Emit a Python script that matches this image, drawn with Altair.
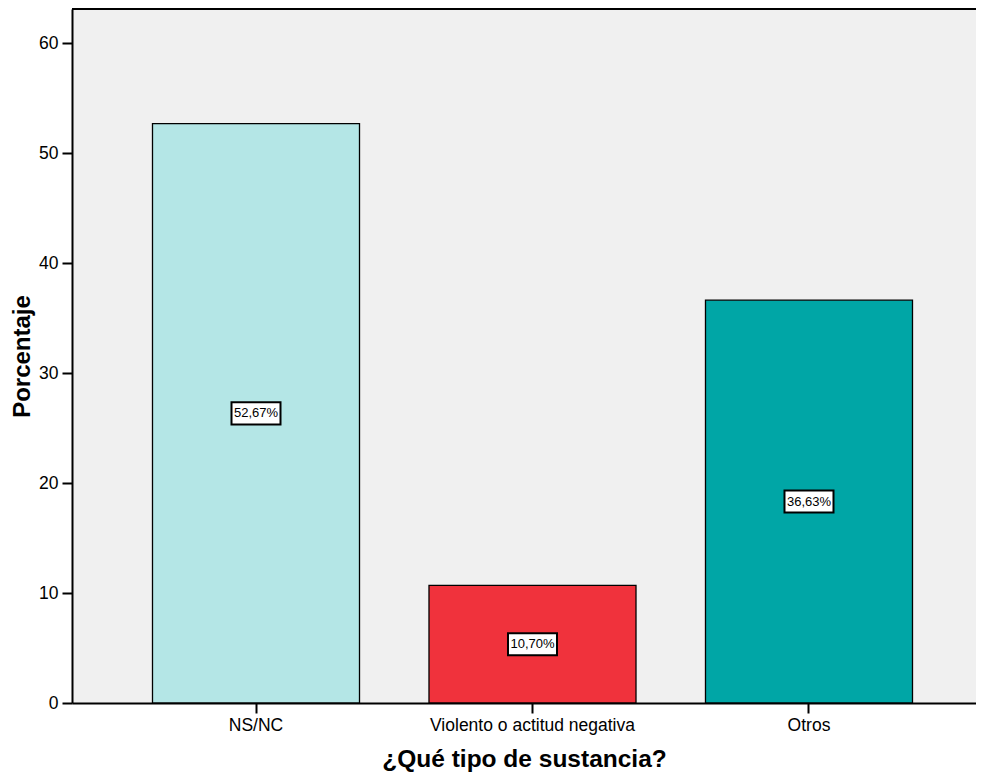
import altair as alt
import pandas as pd

categorias = ["NS/NC", "Violento o actitud negativa", "Otros"]
porcentajes = [52.67, 10.70, 36.63]
etiquetas = ["52,67%", "10,70%", "36,63%"]
colores = ["#b4e6e6", "#f0323c", "#00a6a6"]

df = pd.DataFrame({
    "cat": categorias,
    "pct": porcentajes,
    "mid": [p / 2 for p in porcentajes],
    "lab": etiquetas,
})

FONT = "Liberation Sans"
W, H = 904, 694

x = alt.X("cat:N", sort=categorias,
          scale=alt.Scale(paddingInner=0.2513, paddingOuter=0.2604, align=0.559),
          axis=alt.Axis(title="¿Qué tipo de sustancia?", labelAngle=0, labelLimit=0,
                        labelFontSize=17.5, labelColor="#000", labelPadding=3,
                        tickSize=10, tickWidth=2, tickColor="#000",
                        domainColor="#000", domainWidth=2,
                        titleFontSize=24.5, titleFontWeight="bold", titleColor="#000",
                        titlePadding=14, labelFont=FONT, titleFont=FONT))

bars = alt.Chart(df).mark_bar(stroke="#000", strokeWidth=1.3).encode(
    x=x,
    y=alt.Y("pct:Q", scale=alt.Scale(domain=[0, 63.1], nice=False),
            axis=alt.Axis(title="Porcentaje", values=[0, 10, 20, 30, 40, 50, 60],
                          grid=False, labelFontSize=17.5, labelColor="#000",
                          tickSize=10, tickWidth=2, tickColor="#000",
                          domainColor="#000", domainWidth=2, labelPadding=4,
                          titleFontSize=24, titleFontWeight="bold", titleColor="#000",
                          titlePadding=4, labelFont=FONT, titleFont=FONT)),
    color=alt.Color("cat:N", scale=alt.Scale(domain=categorias, range=colores), legend=None),
)

boxes = alt.Chart(df).mark_point(
    shape="M-1,-0.45L1,-0.45L1,0.45L-1,0.45Z", size=2401, filled=True,
    fill="white", stroke="#000", strokeWidth=2, opacity=1,
).encode(x=alt.X("cat:N", sort=categorias), y="mid:Q")

texts = alt.Chart(df).mark_text(font=FONT, fontSize=13, color="#000").encode(
    x=alt.X("cat:N", sort=categorias), y="mid:Q", text="lab:N")

top_border = alt.Chart(df).mark_rule(color="#000", strokeWidth=2).encode(
    x=alt.value(0), x2=alt.value(W), y=alt.value(0))

chart = alt.layer(bars, boxes, texts, top_border).properties(
    width=W, height=H,
    autosize=alt.AutoSizeParams(type="none"),
    padding={"left": 64, "top": 1, "right": 0, "bottom": 72},
).configure_view(fill="#f0f0f0", stroke=None, strokeWidth=0)

chart.save("out.html", embed_options={"renderer": "svg", "actions": False})
